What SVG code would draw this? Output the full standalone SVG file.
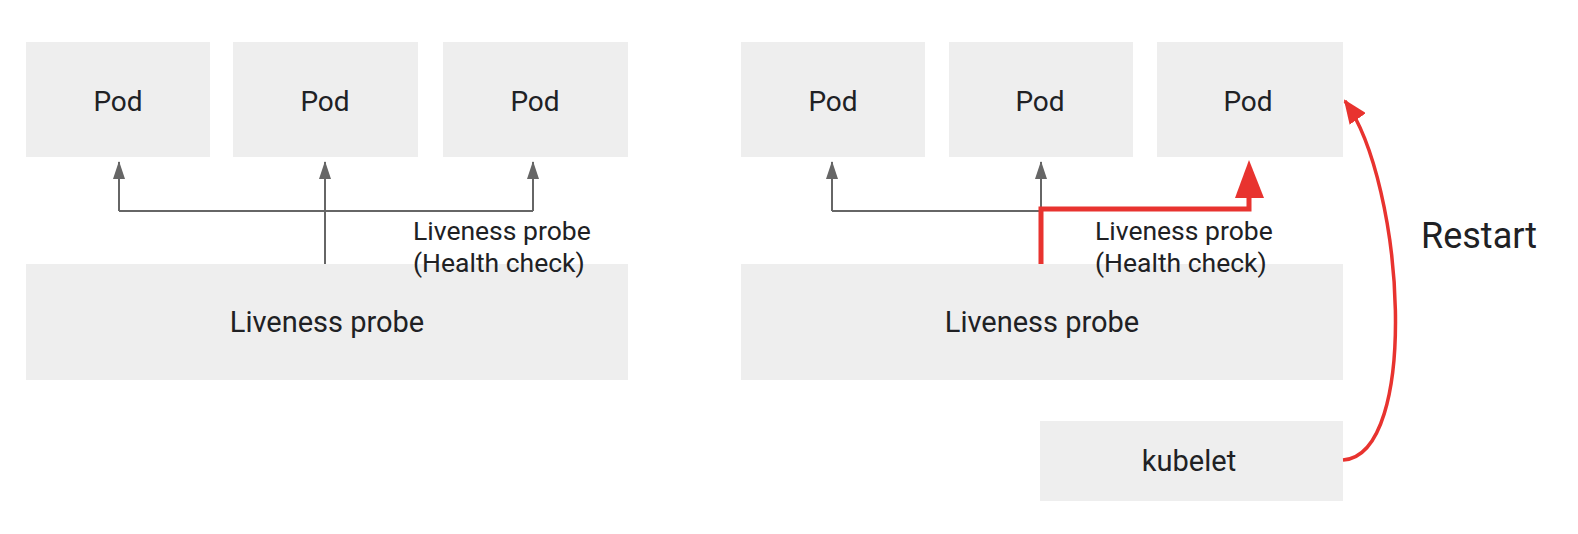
<svg xmlns="http://www.w3.org/2000/svg" width="1578" height="534" viewBox="0 0 1578 534">
<style>
.box{fill:#eeeeee}
.t{font-family:Roboto,"Liberation Sans",sans-serif;fill:#202124;text-anchor:middle;dominant-baseline:central}
.big{font-size:28px}
.lp{font-size:29px}
.small{font-size:26.5px;text-anchor:start}
.gray{stroke:#666666;stroke-width:2;fill:none}
.red{stroke:#e8332f;stroke-width:5;fill:none}
</style>
<defs>
<marker id="ga" viewBox="0 0 18 12" refX="17" refY="6" markerWidth="18" markerHeight="12" markerUnits="userSpaceOnUse" orient="auto">
<path d="M0,0 L18,6 L0,12 Z" fill="#666666"/>
</marker>
<marker id="ra" viewBox="0 0 24 20" refX="22" refY="10" markerWidth="24" markerHeight="20" markerUnits="userSpaceOnUse" orient="auto">
<path d="M0,0 L24,10 L0,20 Z" fill="#e8332f"/>
</marker>
</defs>
<rect width="1578" height="534" fill="#ffffff"/>
<g id="left-pod1"><rect class="box" x="26" y="42" width="184" height="115"/><text class="t big" x="118" y="101">Pod</text></g>
<g id="left-pod2"><rect class="box" x="233" y="42" width="185" height="115"/><text class="t big" x="325" y="101">Pod</text></g>
<g id="left-pod3"><rect class="box" x="443" y="42" width="185" height="115"/><text class="t big" x="535" y="101">Pod</text></g>
<g id="left-probe"><rect class="box" x="26" y="264" width="602" height="116"/><text class="t lp" x="327" y="322">Liveness probe</text></g>
<g id="right-pod1"><rect class="box" x="741" y="42" width="184" height="115"/><text class="t big" x="833" y="101">Pod</text></g>
<g id="right-pod2"><rect class="box" x="949" y="42" width="184" height="115"/><text class="t big" x="1040" y="101">Pod</text></g>
<g id="right-pod3"><rect class="box" x="1157" y="42" width="186" height="115"/><text class="t big" x="1248" y="101">Pod</text></g>
<g id="right-probe"><rect class="box" x="741" y="264" width="602" height="116"/><text class="t lp" x="1042" y="322">Liveness probe</text></g>
<g id="kubelet"><rect class="box" x="1040" y="421" width="303" height="80"/><text class="t lp" x="1189" y="461">kubelet</text></g>
<g id="connectors">
<path class="gray" d="M119,211 H533" />
<path class="gray" d="M119,211 V162" marker-end="url(#ga)"/>
<path class="gray" d="M533,211 V162" marker-end="url(#ga)"/>
<path class="gray" d="M325,264 V162" marker-end="url(#ga)"/>
<path class="gray" d="M832,211 H1041" />
<path class="gray" d="M832,211 V162" marker-end="url(#ga)"/>
<path class="gray" d="M1041,264 V162" marker-end="url(#ga)"/>
<path class="red" d="M1041,264 V209 H1249 V196"/>
<path d="M1235,198 L1249,160 L1264,198 Z" fill="#e8332f"/>
<path class="red" style="stroke-width:3.5" d="M1343,460 C1420,455 1405,185 1345,101" marker-end="url(#ra)"/>
</g>
<g id="labels">
<text class="t small" x="413" y="230">Liveness probe</text>
<text class="t small" x="413" y="262">(Health check)</text>
<text class="t small" x="1095" y="230">Liveness probe</text>
<text class="t small" x="1095" y="262">(Health check)</text>
<text class="t" style="font-size:36px;text-anchor:start" x="1421" y="236">Restart</text>
</g>
</svg>
